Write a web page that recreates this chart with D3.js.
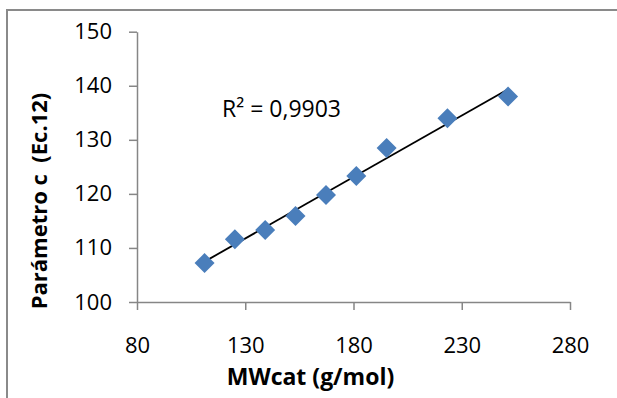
<!DOCTYPE html>
<html>
<head>
<meta charset="utf-8">
<script src="https://cdn.jsdelivr.net/npm/d3@7"></script>
<style>
  html, body { margin: 0; padding: 0; background: #fff; }
  svg { display: block; font-family: "Open Sans", sans-serif; }
</style>
</head>
<body>
<div id="chart"></div>
<script>
// MW of the cation (g/mol) and fitted parameter c
const mwCat = [111.2, 125.2, 139.2, 153.2, 167.3, 181.3, 195.3, 223.4, 251.4];
const paramC = [107.2, 111.6, 113.3, 115.9, 119.8, 123.3, 128.5, 134.0, 138.0];
const xTicks = [80, 130, 180, 230, 280];
const yTicks = [100, 110, 120, 130, 140, 150];
const r2Label = "R\u00b2 = 0,9903";

const width = 617, height = 398;
const margin = { top: 31.7, right: 47, bottom: 96, left: 137 };

const svg = d3.select('#chart').append('svg')
  .attr('width', width)
  .attr('height', height);

// outer chart border (only top/left visible in the crop)
svg.append('rect')
  .attr('x', 7).attr('y', 10)
  .attr('width', width + 10).attr('height', height + 10)
  .attr('fill', 'none')
  .attr('stroke', '#8a8a8a')
  .attr('stroke-width', 2);

const x = d3.scaleLinear().domain([80, 280]).range([margin.left, width - margin.right]);
const y = d3.scaleLinear().domain([100, 150]).range([height - margin.bottom, margin.top]);

const axisColor = '#868686';

// x axis
const gx = svg.append('g')
  .attr('transform', `translate(0,${y(100)})`)
  .call(d3.axisBottom(x).tickValues(xTicks).tickSize(8).tickPadding(27).tickSizeOuter(0));

// y axis
const gy = svg.append('g')
  .attr('transform', `translate(${x(80)},0)`)
  .call(d3.axisLeft(y).tickValues(yTicks).tickSize(8).tickPadding(17).tickSizeOuter(0));

[gx, gy].forEach(g => {
  g.select('.domain').attr('stroke', axisColor).attr('stroke-width', 1.5);
  g.selectAll('.tick line').attr('stroke', axisColor).attr('stroke-width', 1.5);
  g.selectAll('.tick text')
    .attr('fill', '#000')
    .style('font-family', '"Open Sans", sans-serif')
    .style('font-size', '22px');
});
gx.selectAll('.tick line').attr('y1', 0);

// trend line (least squares from the data)
const n = mwCat.length;
const mx = d3.mean(mwCat), my = d3.mean(paramC);
let sxy = 0, sxx = 0;
mwCat.forEach((v, i) => { sxy += (v - mx) * (paramC[i] - my); sxx += (v - mx) * (v - mx); });
const slope = sxy / sxx;
const intercept = my - slope * mx;
const xExt = d3.extent(mwCat);

svg.append('line')
  .attr('x1', x(xExt[0])).attr('y1', y(intercept + slope * xExt[0]))
  .attr('x2', x(xExt[1])).attr('y2', y(intercept + slope * xExt[1]))
  .attr('stroke', '#000')
  .attr('stroke-width', 1.8);

// diamond markers
const diamond = d3.symbol().type(d3.symbolSquare).size(200);
svg.append('g').selectAll('path')
  .data(mwCat.map((v, i) => ({ x: v, y: paramC[i] })))
  .join('path')
  .attr('d', diamond)
  .attr('transform', d => `translate(${x(d.x)},${y(d.y)}) rotate(45)`)
  .attr('fill', '#4a7ebb');

// trend line annotation drawn on top of line
svg.append('text')
  .attr('x', 222)
  .attr('y', 117)
  .style('font-size', '23px')
  .attr('fill', '#000')
  .text(r2Label);

// axis titles
svg.append('text')
  .attr('x', x(180) - 43)
  .attr('y', 385)
  .attr('text-anchor', 'middle')
  .style('font-size', '23px')
  .style('font-weight', 'bold')
  .text('MWcat (g/mol)');

svg.append('text')
  .attr('transform', 'translate(47,201) rotate(-90)')
  .attr('text-anchor', 'middle')
  .style('font-size', '22px')
  .style('font-weight', 'bold')
  .style('white-space', 'pre')
  .text('Parámetro c  (Ec.12)');
</script>
</body>
</html>
